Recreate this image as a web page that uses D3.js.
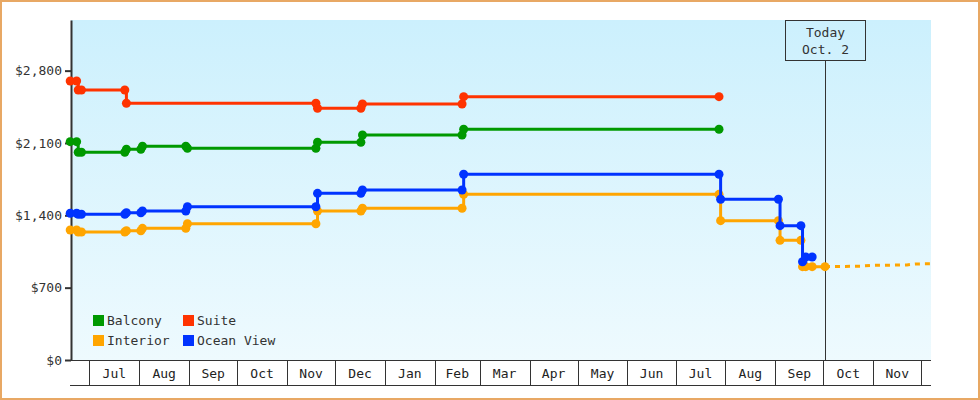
<!DOCTYPE html>
<html>
<head>
<meta charset="utf-8">
<script src="https://cdn.jsdelivr.net/npm/d3@7"></script>
<style>
body { margin: 0; background: #fff; }
text { font-family: "DejaVu Sans Mono", monospace; font-size: 13px; fill: #333; }
</style>
</head>
<body>
<div id="chart"></div>
<script>
// price history per cabin type (dates + prices)
var balconyDates = ["2017-06-19","2017-06-23","2017-06-24","2017-06-26","2017-07-23","2017-07-24","2017-08-02","2017-08-03","2017-08-30","2017-08-31","2017-11-19","2017-11-20","2017-12-17","2017-12-18","2018-02-18","2018-02-19","2018-07-28"];
var balconyPrices = [2113,2113,2010,2010,2010,2039,2039,2068,2068,2049,2049,2107,2107,2177,2177,2233,2233];

var suiteDates = ["2017-06-19","2017-06-23","2017-06-24","2017-06-26","2017-07-23","2017-07-24","2017-11-19","2017-11-20","2017-12-17","2017-12-18","2018-02-18","2018-02-19","2018-07-28"];
var suitePrices = [2700,2700,2613,2613,2613,2484,2484,2436,2436,2477,2477,2548,2548];

var interiorDates = ["2017-06-19","2017-06-23","2017-06-24","2017-06-26","2017-07-23","2017-07-24","2017-08-02","2017-08-03","2017-08-30","2017-08-31","2017-11-19","2017-11-20","2017-12-17","2017-12-18","2018-02-18","2018-02-19","2018-07-28","2018-07-29","2018-09-03","2018-09-04","2018-09-17","2018-09-18","2018-09-20","2018-09-24","2018-10-02"];
var interiorPrices = [1258,1258,1239,1239,1239,1251,1251,1274,1274,1318,1318,1442,1442,1468,1468,1603,1603,1348,1348,1158,1158,903,903,903,903];

var oceanDates = ["2017-06-19","2017-06-23","2017-06-24","2017-06-26","2017-07-23","2017-07-24","2017-08-02","2017-08-03","2017-08-30","2017-08-31","2017-11-19","2017-11-20","2017-12-17","2017-12-18","2018-02-18","2018-02-19","2018-07-28","2018-07-29","2018-09-03","2018-09-04","2018-09-17","2018-09-18","2018-09-20","2018-09-24"];
var oceanPrices = [1420,1420,1410,1410,1410,1425,1425,1442,1442,1483,1483,1613,1613,1645,1645,1797,1797,1555,1555,1300,1300,951,997,997];

// forecast for interior (dashed)
var forecastDates = ["2018-10-02","2018-10-24","2018-11-01","2018-11-22","2018-11-27","2018-12-07"];
var forecastPrices = [903,908,916,920,929,931];

var yTicks = [0, 700, 1400, 2100, 2800];
var todayDate = "2018-10-02";
var todayLabel = ["Today", "Oct. 2"];

var width = 980, height = 400;
var plotLeft = 71, plotRight = 931, plotTop = 20, plotBottom = 360;

var parse = d3.timeParse("%Y-%m-%d");

var series = [
    {name: "Balcony", color: "#009900", dates: balconyDates, prices: balconyPrices},
    {name: "Suite", color: "#ff3300", dates: suiteDates, prices: suitePrices},
    {name: "Interior", color: "#ffa500", dates: interiorDates, prices: interiorPrices},
    {name: "Ocean View", color: "#0033ff", dates: oceanDates, prices: oceanPrices}
];
series.forEach(function(s) {
    s.values = s.dates.map(function(d, i) { return {date: parse(d), price: s.prices[i]}; });
});
var forecast = forecastDates.map(function(d, i) { return {date: parse(d), price: forecastPrices[i]}; });

var x = d3.scaleTime()
    .domain([new Date(2017, 5, 19, 12), new Date(2018, 11, 7)])
    .range([plotLeft, plotRight]);

var y = d3.scaleLinear()
    .domain([0, 3290])
    .range([plotBottom, plotTop]);

var svg = d3.select("#chart")
    .append("svg")
    .attr("width", width)
    .attr("height", height);

// outer border
svg.append("rect")
    .attr("x", 1).attr("y", 1)
    .attr("width", width - 2).attr("height", height - 2)
    .attr("fill", "#fff")
    .attr("stroke", "#e8a864")
    .attr("stroke-width", 2);

var grad = svg.append("defs").append("linearGradient")
    .attr("id", "bg").attr("x1", 0).attr("y1", 0).attr("x2", 0).attr("y2", 1);
grad.append("stop").attr("offset", "0%").attr("stop-color", "#ccf0fd");
grad.append("stop").attr("offset", "100%").attr("stop-color", "#eefafe");

svg.append("rect")
    .attr("x", plotLeft).attr("y", plotTop)
    .attr("width", plotRight - plotLeft).attr("height", plotBottom - plotTop)
    .attr("fill", "url(#bg)");

// today marker
var tx = Math.round(x(parse(todayDate))) + 0.5;
svg.append("line")
    .attr("x1", tx).attr("x2", tx)
    .attr("y1", 61).attr("y2", plotBottom)
    .attr("stroke", "#333").attr("stroke-width", 1);
svg.append("rect")
    .attr("x", tx - 40).attr("y", plotTop + 0.5)
    .attr("width", 80).attr("height", 40)
    .attr("fill", "none")
    .attr("stroke", "#333").attr("stroke-width", 1);
svg.selectAll(".today")
    .data(todayLabel)
    .enter()
    .append("text")
    .attr("class", "today")
    .attr("x", tx)
    .attr("y", function(d, i) { return 37 + i * 17; })
    .attr("text-anchor", "middle")
    .text(function(d) { return d; });

// y axis
var yAxis = svg.append("g")
    .attr("transform", "translate(" + plotLeft + ",0)")
    .call(d3.axisLeft(y)
        .tickValues(yTicks)
        .tickSize(6)
        .tickSizeOuter(0)
        .tickPadding(3)
        .tickFormat(function(d) { return "$" + d3.format(",")(d); }));
yAxis.attr("font-family", null).attr("font-size", null);
yAxis.select(".domain").attr("stroke", "#333").attr("stroke-width", 2);
yAxis.selectAll(".tick line").attr("stroke", "#333").attr("stroke-width", 2);
yAxis.selectAll(".tick text").attr("fill", "#333");

// x axis: month bands
var months = d3.timeMonth.range(x.domain()[0], x.domain()[1]);
var xa = svg.append("g");
xa.append("line")
    .attr("x1", plotLeft - 1).attr("x2", plotRight)
    .attr("y1", plotBottom + 0.5).attr("y2", plotBottom + 0.5)
    .attr("stroke", "#333");
xa.append("line")
    .attr("x1", plotLeft - 1).attr("x2", plotRight)
    .attr("y1", 385.5).attr("y2", 385.5)
    .attr("stroke", "#333");
xa.selectAll(".sep")
    .data(months)
    .enter()
    .append("line")
    .attr("class", "sep")
    .attr("x1", function(d) { return Math.round(x(d)) + 0.5; })
    .attr("x2", function(d) { return Math.round(x(d)) + 0.5; })
    .attr("y1", plotBottom).attr("y2", 385)
    .attr("stroke", "#333");
xa.selectAll(".mlabel")
    .data(months.slice(0, -1))
    .enter()
    .append("text")
    .attr("class", "mlabel")
    .attr("x", function(d) { return (x(d) + x(d3.timeMonth.offset(d, 1))) / 2; })
    .attr("y", 378)
    .attr("text-anchor", "middle")
    .style("fill", "#222")
    .text(function(d) { return d3.timeFormat("%b")(d); });

// lines
var line = d3.line()
    .curve(d3.curveStepAfter)
    .x(function(d) { return x(d.date); })
    .y(function(d) { return y(d.price); });

svg.append("path")
    .datum(forecast)
    .attr("fill", "none")
    .attr("stroke", "#ffa500")
    .attr("stroke-width", 3)
    .attr("stroke-dasharray", "5,5")
    .attr("d", d3.line()
        .x(function(d) { return x(d.date); })
        .y(function(d) { return y(d.price); }));

var g = svg.selectAll(".series")
    .data(series)
    .enter()
    .append("g")
    .attr("class", "series");

g.append("path")
    .attr("fill", "none")
    .attr("stroke", function(d) { return d.color; })
    .attr("stroke-width", 3)
    .attr("d", function(d) { return line(d.values); });

g.selectAll("circle")
    .data(function(d) { return d.values.map(function(v) { return {v: v, color: d.color}; }); })
    .enter()
    .append("circle")
    .attr("cx", function(d) { return x(d.v.date); })
    .attr("cy", function(d) { return y(d.v.price); })
    .attr("r", 4.5)
    .attr("fill", function(d) { return d.color; });

// legend
var legend = svg.selectAll(".legend")
    .data(series)
    .enter()
    .append("g")
    .attr("class", "legend")
    .attr("transform", function(d, i) {
        return "translate(" + (93 + (i % 2) * 90) + "," + (315 + Math.floor(i / 2) * 20) + ")";
    });
legend.append("rect")
    .attr("width", 11).attr("height", 11)
    .attr("fill", function(d) { return d.color; });
legend.append("text")
    .attr("x", 14).attr("y", 10)
    .text(function(d) { return d.name; });
</script>
</body>
</html>
